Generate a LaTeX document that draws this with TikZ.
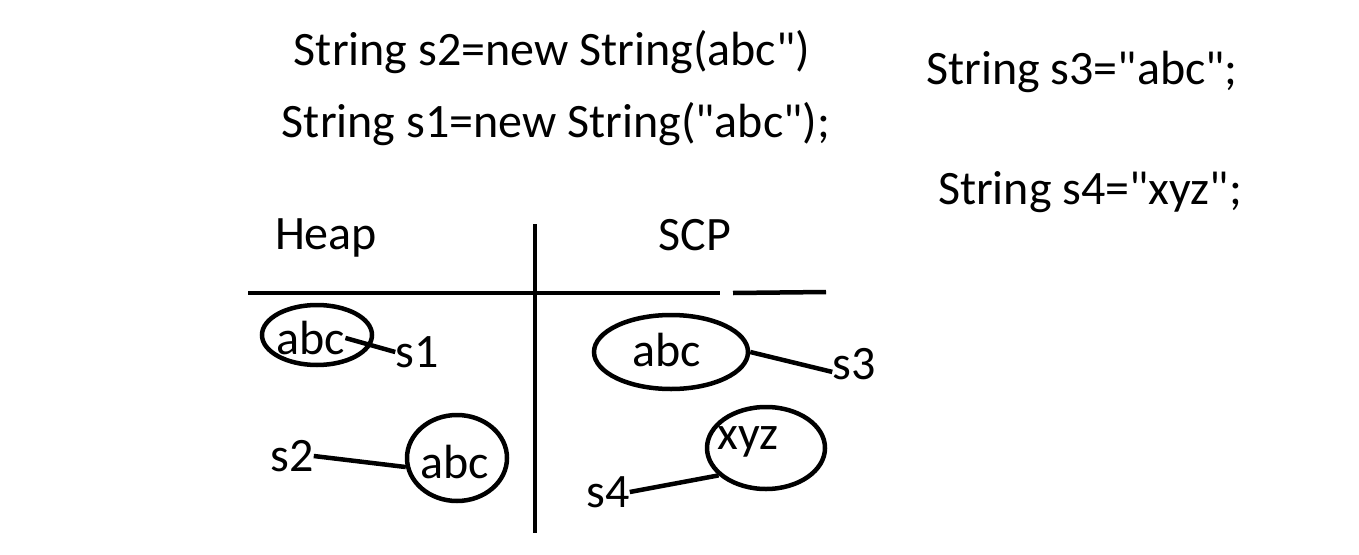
\documentclass[tikz,border=0pt]{standalone}
\usepackage{fontspec}
\newfontfamily\carlito{Carlito}
\usetikzlibrary{positioning, shapes.geometric}

\begin{document}
\begin{tikzpicture}[x=1pt, y=-1pt,
        txt/.style={inner sep=0pt, font=\carlito\fontsize{48}{58}\selectfont},
        oval/.style={draw, ellipse, line width=4.5pt, inner sep=0pt},
        wire/.style={line width=4.5pt}]
        \useasboundingbox (0,0) rectangle (1359,554);
        % code lines
        \node[txt] (code2) at (552,52) {String s2=new String(abc")};
        \node[txt] (code1) at (556,124) {String s1=new String("abc");};
        \node[txt] (code3) at (1082,72) {String s3="abc";};
        \node[txt] (code4) at (1090,192) {String s4="xyz";};
        % table
        \node[txt] (heap) at (326,238) {Heap};
        \node[txt] (scp) at (695,235) {SCP};
        \draw[wire] (248,293) -- (720,293);
        \draw[wire] (733,293) -- (826,292);
        \draw[wire] (535,224) -- (535,533);
        % heap objects
        \node[oval, minimum width=110pt, minimum height=60pt] (heapA) at (317,335) {};
        \node[txt] (heapAt) at (311,338) {abc};
        \node[oval, minimum width=100pt, minimum height=86pt] (heapB) at (457,458) {};
        \node[txt] (heapBt) at (455,462) {abc};
        % pool objects
        \node[oval, minimum width=154pt, minimum height=74pt] (scpA) at (671,352) {};
        \node[txt] (scpAt) at (667,350) {abc};
        \node[oval, minimum width=118pt, minimum height=82pt] (scpB) at (766,448) {};
        \node[txt] (scpBt) at (748,442) {xyz};
        % references
        \node[txt] (s1) at (417,352) {s1};
        \node[txt] (s2) at (292,456) {s2};
        \node[txt] (s3) at (854,364) {s3};
        \node[txt] (s4) at (608,492) {s4};
        \draw[wire] (heapAt.east) -- (s1.west);
        \draw[wire] (s2.east) -- (heapB.190);
        \draw[wire] (scpA.east) -- (s3.200);
        \draw[wire] (s4.east) -- (scpB.210);
\end{tikzpicture}
\end{document}
